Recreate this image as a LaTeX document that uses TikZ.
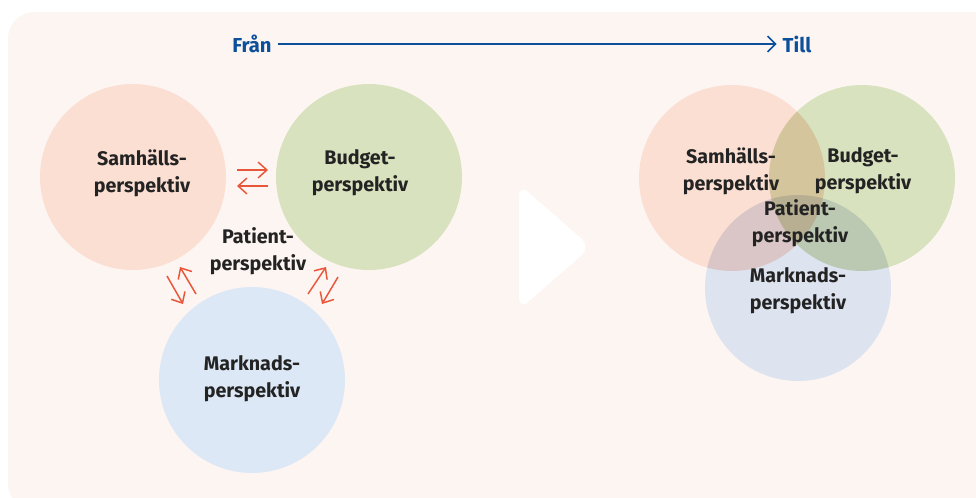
\documentclass[tikz,border=0pt]{standalone}
\usepackage{fontspec}
\setmainfont{Fira Sans}
\usetikzlibrary{positioning,arrows.meta}
\definecolor{bgpink}{RGB}{253,245,242}
\definecolor{peach}{RGB}{251,223,211}
\definecolor{sage}{RGB}{216,226,190}
\definecolor{skyblue}{RGB}{220,232,245}
\definecolor{greyblue}{RGB}{222,227,240}
\definecolor{navy}{RGB}{12,80,155}
\definecolor{coral}{RGB}{232,87,58}
\definecolor{ink}{RGB}{35,35,35}
\tikzset{persp/.style={circle,minimum size=3.72cm,inner sep=0pt}}
\tikzset{label/.style={align=center,text=ink,font=\fontsize{11.2}{15.3}\selectfont\bfseries}}
\tikzset{swap/.style={-{Straight Barb[length=5pt,width=9pt]},coral,line width=0.85pt}}
\tikzset{title/.style={text=navy,font=\fontsize{11.5}{14}\selectfont\bfseries}}

\begin{document}
\begin{tikzpicture}[x=0.02cm,y=-0.02cm]
	\useasboundingbox (0,0) rectangle (976,497);
	\fill[bgpink,rounded corners=15] (1000,12) -- (8,12) -- (8,510) -- (1000,510) -- cycle;
	%% Fran -> Till
	\node[title] (fran) at (252,44) {Från};
	\node[title] (till) at (797,44) {Till};
	\draw[-{Straight Barb[length=4.5pt,width=9pt]},navy,line width=0.9pt] (fran) -- (till);
	%% left: separate perspectives
	\node[persp,fill=peach] (samL) at (133,177) {};
	\node[persp,fill=sage] (budL) at (369,177) {};
	\node[persp,fill=skyblue] (marL) at (252,380) {};
	\node[label] (samLtxt) at (142,173) {Samhälls-\\perspektiv};
	\node[label] (budLtxt) at (360,173) {Budget-\\perspektiv};
	\node[label] (patLtxt) at (258,251) {Patient-\\perspektiv};
	\node[label] (marLtxt) at (252,379) {Marknads-\\perspektiv};
	%% arrows between them
	\coordinate (h1) at (237,170); \coordinate (h2) at (268,170);
	\coordinate (h3) at (268,186); \coordinate (h4) at (237,186);
	\draw[swap] (h1) -- (h2);
	\draw[swap] (h3) -- (h4);
	\coordinate (l1) at (167,276); \coordinate (l2) at (183,304);
	\coordinate (l3) at (196,294); \coordinate (l4) at (180,267);
	\draw[swap] (l1) -- (l2);
	\draw[swap] (l3) -- (l4);
	\coordinate (r1) at (308,294); \coordinate (r2) at (326,267);
	\coordinate (r3) at (338,277); \coordinate (r4) at (322,304);
	\draw[swap] (r1) -- (r2);
	\draw[swap] (r3) -- (r4);
	%% middle triangle
	\fill[white,rounded corners=7] (519,184) -- (591,247) -- (519,310) -- cycle;
	%% right: overlapping perspectives
	\begin{scope}[blend group=multiply]
		\node[persp,fill=peach] (samR) at (732,178) {};
		\node[persp,fill=sage] (budR) at (862,178) {};
		\node[persp,fill=greyblue] (marR) at (798,288) {};
	\end{scope}
	\node[label] (samRtxt) at (731,171) {Samhälls-\\perspektiv};
	\node[label] (budRtxt) at (863,171) {Budget-\\perspektiv};
	\node[label] (patRtxt) at (800,223) {Patient-\\perspektiv};
	\node[label] (marRtxt) at (798,291) {Marknads-\\perspektiv};
\end{tikzpicture}
\end{document}
